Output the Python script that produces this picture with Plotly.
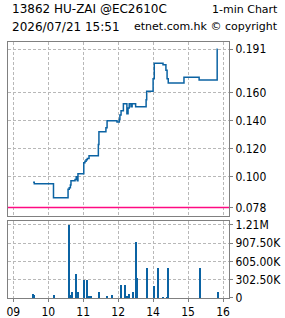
import plotly.graph_objects as go

# ---------------- data ----------------
price_times = ["09:34", "09:36", "10:09", "10:34", "10:36", "10:38", "10:39", "10:46",
               "10:48", "10:50", "10:51", "11:01", "11:03", "11:05", "11:07", "11:10",
               "11:26", "11:27", "11:39", "11:41", "11:58", "13:02", "13:03", "13:05",
               "13:09", "13:15", "13:17", "13:19", "13:22", "13:24", "13:30", "13:48",
               "13:49", "14:00", "14:02", "14:17", "14:22", "14:24", "14:26", "14:53",
               "15:19", "15:50", "15:51"]
prices = [0.096, 0.095, 0.085, 0.091, 0.092, 0.094, 0.097, 0.098,
          0.100, 0.097, 0.102, 0.110, 0.111, 0.112, 0.113, 0.115,
          0.123, 0.132, 0.135, 0.140, 0.139, 0.141, 0.144, 0.147,
          0.152, 0.145, 0.149, 0.152, 0.150, 0.152, 0.150, 0.155,
          0.161, 0.170, 0.181, 0.180, 0.176, 0.170, 0.167, 0.171,
          0.169, 0.191, 0.191]

volume_times = ["09:34", "09:36", "10:10", "10:35", "10:37", "10:40", "10:48", "10:51",
                "11:01", "11:06", "11:10", "11:13", "11:27", "11:41", "11:49", "13:05",
                "13:12", "13:15", "13:18", "13:25", "13:30", "13:32", "13:49", "14:01",
                "14:08", "14:17", "14:24", "14:25", "15:20", "15:51"]
volumes = [71000, 55000, 55000, 1210000, 55000, 105000, 400000, 105000,
           300000, 300000, 20000, 38000, 105000, 18000, 55000, 220000,
           220000, 38000, 71000, 105000, 930000, 330000, 500000, 203000,
           500000, 15000, 15000, 500000, 500000, 105000]

ref_price = 0.078

price_tick_vals = [0.078, 0.100, 0.120, 0.140, 0.160, 0.191]
price_tick_text = ["0.078", "0.100", "0.120", "0.140", "0.160", "0.191"]
vol_tick_vals = [0, 302500, 605000, 907500, 1210000]
vol_tick_text = ["0", "302.50K", "605.00K", "907.50K", "1.21M"]
hour_ticks = ["09:00", "10:00", "11:00", "12:00", "14:00", "15:00", "16:00"]
hour_labels = ["09", "10", "11", "12", "14", "15", "16"]

title_left_1 = "13862 HU-ZAI @EC2610C"
title_right_1 = "1-min Chart"
title_left_2 = "2026/07/21 15:51"
title_right_2 = "etnet.com.hk \u00a9 copyright"


def trading_minute(t):
    """Minutes since 09:00 with the 12:00-13:00 lunch break removed."""
    h, m = map(int, t.split(":"))
    mins = (h - 9) * 60 + m
    if h >= 13:
        mins -= 60
    return mins


px_ = [trading_minute(t) for t in price_times]
vx_ = [trading_minute(t) for t in volume_times]
tick_x = [trading_minute(t) for t in hour_ticks]

BLUE = "#0B63A3"
GRID = "#B8B8B8"
FRAME = "#808080"
NARROW = "Liberation Sans Narrow, Arial Narrow, DejaVu Sans Condensed, sans-serif"
XR = [-9.1, 370.3]

fig = go.Figure()
fig.add_trace(go.Scatter(x=px_, y=prices, mode="lines", line=dict(color=BLUE, width=1.5, shape="hv"),
                         xaxis="x", yaxis="y", hoverinfo="skip", showlegend=False))
fig.add_trace(go.Scatter(x=XR, y=[ref_price, ref_price], mode="lines",
                         line=dict(color="#FF0A82", width=1.5),
                         xaxis="x", yaxis="y", hoverinfo="skip", showlegend=False))
fig.add_trace(go.Bar(x=vx_, y=volumes, width=1.7, marker=dict(color=BLUE, line=dict(width=0)),
                     xaxis="x2", yaxis="y2", hoverinfo="skip", showlegend=False))

axis_common = dict(showline=True, mirror=True, linecolor=FRAME, linewidth=1,
                   showgrid=True, gridcolor=GRID, griddash="3px,2px", gridwidth=1,
                   zeroline=False, automargin=False)

fig.update_layout(
    width=285, height=318, autosize=False,
    margin=dict(l=8, r=56, t=42, b=20, pad=0),
    paper_bgcolor="white", plot_bgcolor="white",
    font=dict(family=NARROW, size=12, color="black"),
    bargap=0,
    xaxis=dict(domain=[0, 1], anchor="y", range=XR, tickvals=tick_x, showticklabels=False,
               ticks="", **axis_common),
    yaxis=dict(domain=[0.3203, 1], anchor="x", side="right", range=[0.0719, 0.1962],
               tickvals=price_tick_vals, ticktext=price_tick_text,
               ticks="outside", ticklen=3, tickcolor=FRAME, **axis_common),
    xaxis2=dict(domain=[0, 1], anchor="y2", range=XR, tickvals=tick_x, ticktext=hour_labels,
                ticks="outside", ticklen=3, tickcolor=FRAME, **axis_common),
    yaxis2=dict(domain=[0, 0.3008], anchor="x2", side="right", range=[0, 1276000],
                tickvals=vol_tick_vals, ticktext=vol_tick_text,
                ticks="outside", ticklen=3, tickcolor=FRAME, **axis_common),
)

title_font_l = dict(family="DejaVu Sans, Verdana, sans-serif", size=12, color="black")
title_font_r = dict(family="DejaVu Sans, Verdana, sans-serif", size=11, color="black")
for text, x, y, anchor, f in [
    (title_left_1, 0.0068, 1.127, "left", title_font_l),
    (title_right_1, 1.233, 1.127, "right", title_font_r),
    (title_left_2, 0.0068, 1.0586, "left", title_font_l),
    (title_right_2, 1.233, 1.0586, "right", title_font_r),
]:
    fig.add_annotation(text=text, x=x, y=y, xref="paper", yref="paper",
                       xanchor=anchor, yanchor="middle", showarrow=False, font=f)

fig.write_html("out.html")
